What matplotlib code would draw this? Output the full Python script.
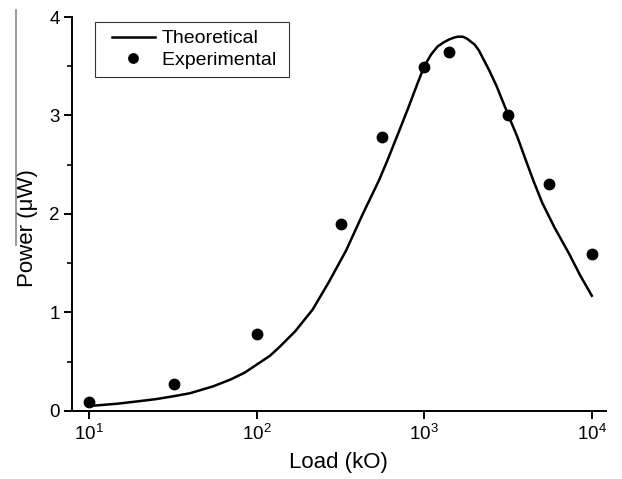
import matplotlib
matplotlib.use("Agg")
import matplotlib.pyplot as plt
from matplotlib.lines import Line2D
from matplotlib.legend_handler import HandlerLine2D
from matplotlib.ticker import MultipleLocator, LogLocator, NullLocator

plt.rcParams["font.family"] = ["Liberation Sans", "DejaVu Sans"]
plt.rcParams["mathtext.fontset"] = "custom"
plt.rcParams["mathtext.rm"] = "Liberation Sans"
plt.rcParams["mathtext.it"] = "Liberation Sans"

# theoretical curve
theo_load = [10, 15, 20, 25, 32, 40, 55, 70, 85, 100, 120, 137, 170, 216, 270,
             342, 430, 540, 605, 700, 800, 900, 1000, 1100, 1200, 1300, 1400,
             1500, 1580, 1700, 1800, 2000, 2120, 2440, 2700, 3180, 3600, 4030,
             4500, 5070, 6000, 7300, 8500, 10000]
theo_power = [0.05, 0.075, 0.10, 0.12, 0.15, 0.18, 0.25, 0.32, 0.39, 0.47, 0.56,
              0.65, 0.81, 1.03, 1.31, 1.63, 2.00, 2.35, 2.55, 2.82, 3.07, 3.30,
              3.50, 3.62, 3.70, 3.74, 3.77, 3.79, 3.80, 3.80, 3.78, 3.72, 3.66,
              3.46, 3.30, 3.00, 2.78, 2.55, 2.33, 2.11, 1.86, 1.60, 1.38, 1.17]

# measured points
exp_load = [10, 32, 100, 319, 560, 1000, 1400, 3180, 5550, 10000]
exp_power = [0.09, 0.27, 0.78, 1.90, 2.78, 3.49, 3.64, 3.00, 2.30, 1.59]

fig = plt.figure(figsize=(6.22, 4.79), dpi=100)
ax = fig.add_axes([0.1158, 0.142, 0.858, 0.8225])

ax.plot(theo_load, theo_power, color="black", lw=1.8, label="Theoretical")
ax.plot(exp_load, exp_power, "o", color="black", ms=7.5, label="Experimental ")

ax.set_xscale("log")
ax.set_xlim(7.92, 12100)
ax.set_ylim(0, 4)
ax.xaxis.set_major_locator(LogLocator(base=10, numticks=10))
ax.xaxis.set_minor_locator(NullLocator())
ax.yaxis.set_major_locator(MultipleLocator(1))
ax.yaxis.set_minor_locator(MultipleLocator(0.5))

for side in ["top", "right"]:
    ax.spines[side].set_visible(False)
for side in ["left", "bottom"]:
    ax.spines[side].set_linewidth(1.4)

ax.tick_params(which="major", direction="out", length=6, width=1.4,
               labelsize=13.5, pad=3)
ax.tick_params(which="minor", direction="out", length=3.5, width=1.2)

ax.set_xlabel("Load (kO)", fontsize=16, labelpad=6)
ax.set_ylabel("Power (\u03bcW)", fontsize=16)
ax.yaxis.set_label_coords(-0.064, 0.464)

leg = ax.legend(loc="upper left", bbox_to_anchor=(95 / 622, 1 - 22 / 479),
                bbox_transform=fig.transFigure, borderaxespad=0, fontsize=14,
                frameon=True, fancybox=False, edgecolor="black",
                handlelength=2.7, handletextpad=0.35, borderpad=0.4,
                labelspacing=0.2, markerscale=0.9,
                handler_map={Line2D: HandlerLine2D(xpad=0.45)})
leg.get_frame().set_linewidth(0.8)

# faint scan line at the left edge
fig.add_artist(Line2D([0.025, 0.025], [0.488, 0.98], color="#888888", lw=1.2))

fig.savefig("out.png", dpi=100)
